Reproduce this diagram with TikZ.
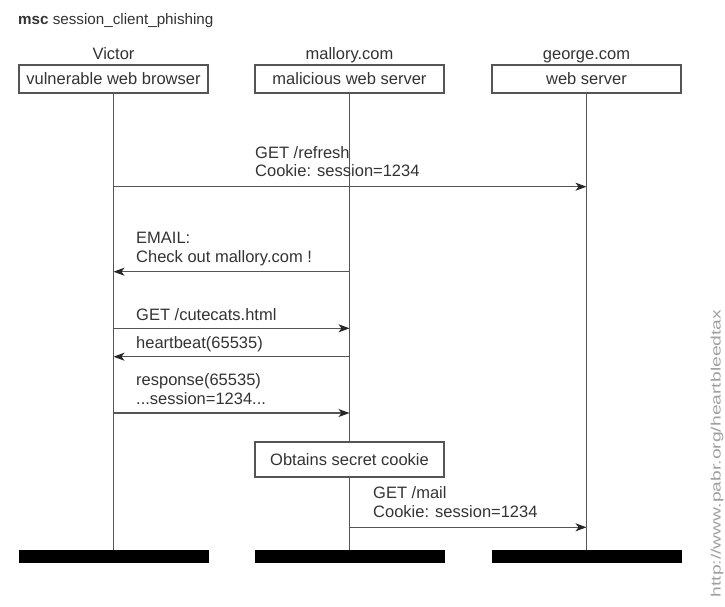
\documentclass[tikz,border=0pt]{standalone}
\usepackage{fontspec}
\setmainfont{Liberation Sans}
\usetikzlibrary{arrows.meta}
\definecolor{ink}{HTML}{333333}
\definecolor{rule}{HTML}{555555}
\definecolor{mark}{HTML}{A0A0A0}
\begin{document}
\begin{tikzpicture}[x=1pt,y=-1pt,
  txt/.style={inner sep=0pt, text=ink, font=\fontsize{16.5}{19}\selectfont},
  lbl/.style={txt, anchor=base west},
  instbox/.style={draw=rule, line width=1.2pt, minimum width=189pt, minimum height=28pt, inner sep=0pt, fill=white, text=ink, font=\fontsize{16.5}{19}\selectfont},
  endbar/.style={fill=black, draw=none, minimum width=190pt, minimum height=13pt, inner sep=0pt},
  life/.style={draw=rule, line width=1.3pt},
  msg/.style={draw=rule, line width=1.2pt, -{Stealth[length=11pt,width=8pt,inset=3pt,color=black!85]}}
]
\useasboundingbox (0,0) rectangle (725,606);

% title
\node[lbl, font=\fontsize{15.2}{18}\selectfont] (title) at (18,24) {\textbf{msc} session\_client\_phishing};

% instance heads
\node[lbl, anchor=base] (vname) at (113.5,59.3) {Victor};
\node[lbl, anchor=base] (mname) at (349.5,59.3) {mallory.com};
\node[lbl, anchor=base] (gname) at (586.5,59.3) {george.com};

\node[instbox] (vic) at (113.5,79) {vulnerable web browser};
\node[instbox] (mal) at (349.5,79) {malicious web server};
\node[instbox] (geo) at (586.5,79) {web server};

% instance ends
\node[endbar] (vend) at (113.5,556.5) {};
\node[endbar] (mend) at (349.5,556.5) {};
\node[endbar] (gend) at (586.5,556.5) {};

% lifelines
\draw[life] (vic.south) -- (vend.north);
\draw[life] (mal.south) -- (mend.north);
\draw[life] (geo.south) -- (gend.north);

% local action
\node[instbox, minimum height=35pt] (act) at (349.5,459.5) {Obtains secret cookie};

% messages
\coordinate (y1) at (0,186.7);
\coordinate (y2) at (0,271.7);
\coordinate (y3) at (0,328.3);
\coordinate (y4) at (0,356.7);
\coordinate (y5) at (0,413);
\coordinate (y6) at (0,527.3);

\draw[msg] (vic.south |- y1) -- (geo.south |- y1);
\node[lbl] (m1a) at (255,158.3) {GET /refresh};
\node[lbl] (m1b) at (255,176.7) {Cookie: session=1234};

\draw[msg] (mal.south |- y2) -- (vic.south |- y2);
\node[lbl] (m2a) at (136,243.3) {EMAIL:};
\node[lbl] (m2b) at (136,262.5) {Check out mallory.com !};

\draw[msg] (vic.south |- y3) -- (mal.south |- y3);
\node[lbl] (m3) at (136,320.5) {GET /cutecats.html};

\draw[msg] (mal.south |- y4) -- (vic.south |- y4);
\node[lbl] (m4) at (136,348.5) {heartbeat(65535)};

\draw[msg] (vic.south |- y5) -- (mal.south |- y5);
\node[lbl] (m5a) at (136,385) {response(65535)};
\node[lbl] (m5b) at (136,404) {...session=1234...};

\draw[msg] (act.south |- y6) -- (geo.south |- y6);
\node[lbl] (m6a) at (373,498.3) {GET /mail};
\node[lbl] (m6b) at (373,517.3) {Cookie: session=1234};

% side mark
\node[txt, text=mark, rotate=90, font=\fontsize{13.5}{16}\selectfont] (url) at (717,453.5) {\scalebox{1.43}[1]{http://www.pabr.org/heartbleedtax}};
\end{tikzpicture}
\end{document}
